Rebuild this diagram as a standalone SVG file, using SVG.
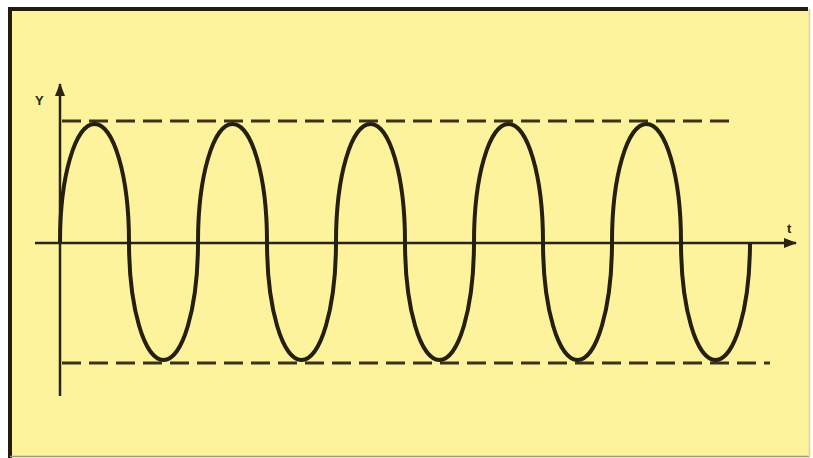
<svg xmlns="http://www.w3.org/2000/svg" width="813" height="458" viewBox="0 0 813 458">
<style>
.ax{stroke:#2a2412;stroke-width:2.5;fill:none}
.dash{stroke:#3a3318;stroke-width:3;stroke-dasharray:19 8;fill:none}
.wave{stroke:#251f0e;stroke-width:4;fill:none;stroke-linejoin:round}
.lbl{font-family:"Liberation Sans",Arial,sans-serif;font-weight:bold;font-size:13px;fill:#2a2412}
</style>
<defs>
<marker id="arr" viewBox="0 0 13 10" refX="12" refY="5" markerWidth="13" markerHeight="10" markerUnits="userSpaceOnUse" orient="auto">
<path d="M0,0 L13,5 L0,10 Z" fill="#2a2412"/>
</marker>
</defs>
<rect x="0" y="0" width="813" height="458" fill="#ffffff"/>
<rect id="panel" x="10" y="9" width="799" height="447" fill="#fdf39c"/>
<line x1="8" y1="9" x2="808" y2="9" stroke="#231c0c" stroke-width="4"/>
<line x1="10" y1="7" x2="10" y2="458" stroke="#231c0c" stroke-width="4"/>
<line x1="10" y1="456.5" x2="810" y2="456.5" stroke="#9c9680" stroke-width="1.5"/>
<line x1="809.5" y1="9" x2="809.5" y2="457" stroke="#d9d3a8" stroke-width="1.5"/>
<g id="guides">
<line class="dash" x1="62" y1="121" x2="735" y2="121"/>
<line class="dash" x1="62" y1="363" x2="770" y2="363"/>
</g>
<g id="axes">
<line class="ax" x1="60" y1="396" x2="60" y2="84" marker-end="url(#arr)"/>
<line class="ax" x1="35" y1="243" x2="796" y2="243" marker-end="url(#arr)"/>
</g>
<g id="labels">
<text class="lbl" x="35" y="105">Y</text>
<text class="lbl" x="787" y="233">t</text>
</g>
<g id="wave">
<path class="wave" d="M60,242
c0,-66 15.4,-118 34.5,-118 c19.1,0 34.5,52 34.5,118 c0,66 15.4,118 34.5,118 c19.1,0 34.5,-52 34.5,-118
c0,-66 15.4,-118 34.5,-118 c19.1,0 34.5,52 34.5,118 c0,66 15.4,118 34.5,118 c19.1,0 34.5,-52 34.5,-118
c0,-66 15.4,-118 34.5,-118 c19.1,0 34.5,52 34.5,118 c0,66 15.4,118 34.5,118 c19.1,0 34.5,-52 34.5,-118
c0,-66 15.4,-118 34.5,-118 c19.1,0 34.5,52 34.5,118 c0,66 15.4,118 34.5,118 c19.1,0 34.5,-52 34.5,-118
c0,-66 15.4,-118 34.5,-118 c19.1,0 34.5,52 34.5,118 c0,66 15.4,118 34.5,118 c19.1,0 34.5,-52 34.5,-118"/>
</g>
</svg>
